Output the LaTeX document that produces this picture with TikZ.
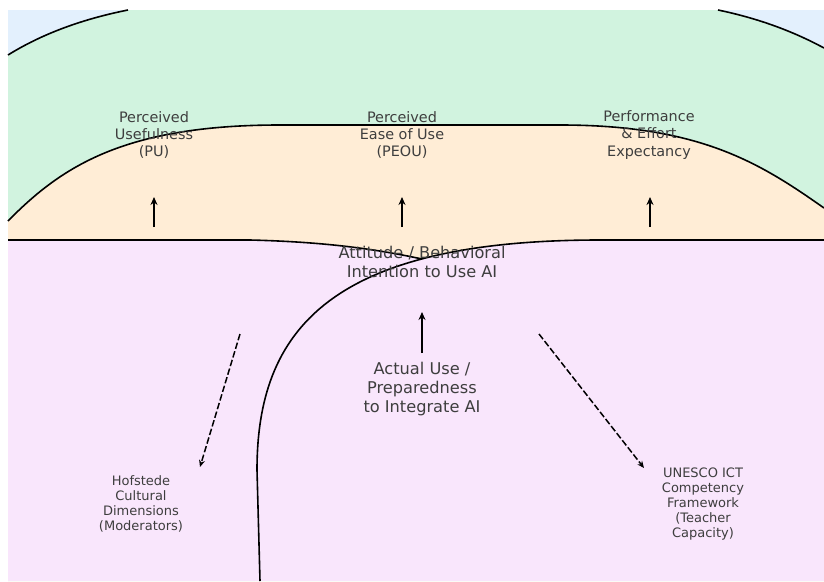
\documentclass[tikz,border=0pt]{standalone}
\usepackage{fontspec}
\setmainfont{DejaVu Sans}
\usetikzlibrary{arrows.meta}
\definecolor{bgblue}{RGB}{227,240,253}
\definecolor{layergreen}{RGB}{209,243,223}
\definecolor{layerpeach}{RGB}{255,237,214}
\definecolor{layerpurple}{RGB}{249,230,252}
\definecolor{labeltext}{RGB}{62,62,62}
\tikzset{
  boundary/.style={draw=black, line width=1.6pt},
  upflow/.style={-{Stealth[length=8pt,width=7pt]}, line width=2.2pt, black},
  dashflow/.style={-{Stealth[length=7pt,width=6pt]}, line width=1.5pt, black, dash pattern=on 6.5pt off 2.5pt},
  toplabel/.style={text=labeltext, align=center, font=\fontsize{14.4}{17.3}\selectfont, inner sep=0pt},
  midlabel/.style={text=labeltext, align=center, font=\fontsize{16.2}{18.7}\selectfont, inner sep=0pt},
  smalllabel/.style={text=labeltext, align=center, font=\fontsize{13}{15}\selectfont, inner sep=0pt}
}
\begin{document}
\begin{tikzpicture}[x=1pt,y=-1pt]
\useasboundingbox (0,0) rectangle (824,581);
\fill[white] (0,0) rectangle (824,581);
% background
\fill[bgblue] (8,10) rectangle (824,581);
% green layer
\fill[layergreen] (8,55) .. controls (41.3,34.3) and (81.3,19.3) .. (128,10) -- (718,10) .. controls (756.7,18) and (792,30.7) .. (824,48) -- (824,581) -- (8,581) -- cycle;
% peach layer
\fill[layerpeach] (8,221) .. controls (62,166) and (125,125) .. (280,125) -- (560,125) .. controls (700,125) and (760,163) .. (824,208) -- (824,581) -- (8,581) -- cycle;
% purple layer
\fill[layerpurple] (8,240) rectangle (824,581);
% peach slivers above the two lower curves
\begin{scope}
  \clip (0,200) rectangle (422,300);
  \fill[layerpeach] (250,240) .. controls (330,242) and (380,250) .. (422,259) -- (422,240) -- cycle;
\end{scope}
\begin{scope}
  \clip (422,200) rectangle (824,300);
  \fill[layerpeach] (600,240) .. controls (330,240) and (257,330) .. (257,470) -- (257,240) -- cycle;
\end{scope}
% boundaries
\draw[boundary] (8,55) .. controls (41.3,34.3) and (81.3,19.3) .. (128,10);
\draw[boundary] (718,10) .. controls (756.7,18) and (792,30.7) .. (824,48);
\draw[boundary] (8,221) .. controls (62,166) and (125,125) .. (280,125) -- (560,125) .. controls (700,125) and (760,163) .. (824,208);
\draw[boundary] (8,240) -- (250,240) .. controls (330,242) and (380,250) .. (422,259);
\draw[boundary] (824,240) -- (600,240) .. controls (330,240) and (257,330) .. (257,470) -- (260,581);
% labels
\node[toplabel] (pu) at (154,135) {Perceived\\Usefulness\\(PU)};
\node[toplabel] (peou) at (402,135) {Perceived\\Ease of Use\\(PEOU)};
\node[toplabel] (pee) at (649,135) {Performance\\\& Effort\\Expectancy};
\node[midlabel] (att) at (422,262) {Attitude / Behavioral\\Intention to Use AI};
\node[midlabel] (use) at (422,389) {Actual Use /\\Preparedness\\to Integrate AI};
\node[smalllabel] (hof) at (141,504) {Hofstede\\Cultural\\Dimensions\\(Moderators)};
\node[smalllabel] (unesco) at (703,504) {UNESCO ICT\\Competency\\Framework\\(Teacher\\Capacity)};
% arrow anchors
\coordinate (a1s) at (154,227); \coordinate (a1e) at (154,197);
\coordinate (a2s) at (402,227); \coordinate (a2e) at (402,197);
\coordinate (a3s) at (650,227); \coordinate (a3e) at (650,197);
\coordinate (a4s) at (422,353); \coordinate (a4e) at (422,312);
\coordinate (d1s) at (240,334); \coordinate (d1e) at (200,467);
\coordinate (d2s) at (539,334); \coordinate (d2e) at (644,468);
\draw[upflow] (a1s) -- (a1e);
\draw[upflow] (a2s) -- (a2e);
\draw[upflow] (a3s) -- (a3e);
\draw[upflow] (a4s) -- (a4e);
\draw[dashflow] (d1s) -- (d1e);
\draw[dashflow] (d2s) -- (d2e);
\end{tikzpicture}
\end{document}
